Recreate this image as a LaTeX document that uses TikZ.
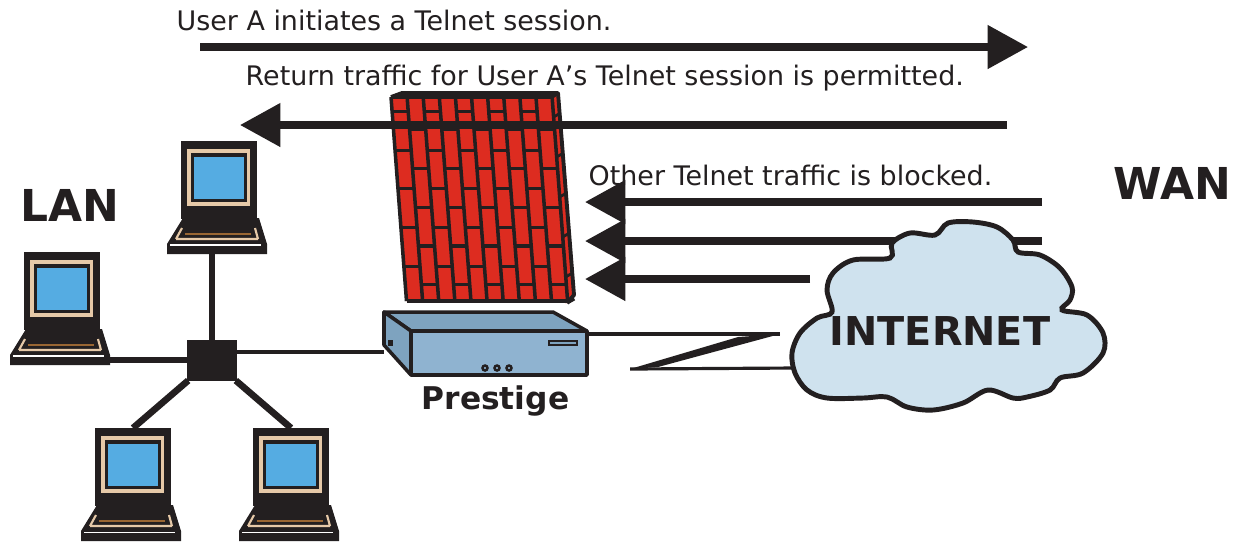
\documentclass[tikz,border=0pt]{standalone}
\usepackage{fontspec}
\setmainfont{DejaVu Sans}
\usetikzlibrary{arrows.meta,positioning}
\definecolor{ink}{HTML}{231F20}
\definecolor{brick}{HTML}{DD2C20}
\definecolor{screen}{HTML}{55ACE2}
\definecolor{bezel}{HTML}{E6C9A8}
\definecolor{caseface}{HTML}{8FB3D0}
\definecolor{casetop}{HTML}{7EA3BF}
\definecolor{cloudblue}{HTML}{CFE2EE}
\tikzset{
  msg/.style={font=\fontsize{7.65}{9}\selectfont,text=ink,inner sep=0pt},
  title/.style={font=\fontsize{12.5}{14}\selectfont\bfseries,text=ink,inner sep=0pt},
  traffic/.style={draw=ink,line width=2.1pt,-{Triangle[length=11.5pt,width=12pt]}},
  wire/.style={draw=ink,line width=1.3pt},
  computer/.pic={
    \fill[ink] (0,0) rectangle (76,78);
    \fill[bezel] (6,8) rectangle (69,65);
    \fill[ink] (10,12) rectangle (66,61);
    \fill[screen] (13,16) rectangle (63,58);
    \fill[ink] (2,77) -- (78,77) -- (86,103) -- (86,113) -- (-14,113) -- (-14,103) -- cycle;
    \draw[bezel,line width=0.6pt] (-5,98) -- (1,87) (74,87) -- (77,98) (-5,98) -- (77,98);
    \draw[brown!80!black,line width=0.5pt] (4,93) -- (70,93);
    \draw[white,line width=0.3pt] (-11,104) -- (80,104);
    \coordinate (-north) at (38,0);
    \coordinate (-south) at (31,113);
    \coordinate (-east) at (86,108);
  }
}
\begin{document}
\begin{tikzpicture}[x=0.01cm,y=-0.01cm]
  \useasboundingbox (0,0) rectangle (1240,550);

  % firewall
  \fill[brick] (391,97) -- (402,93) -- (558,93) -- (574,295) -- (567,303) -- (406,301) -- cycle;
  \begin{scope}[shift={(391,97)},x={(0.161cm,0cm)},y={(0.0155cm,-0.204cm)},line width=0.9pt]
    \foreach \i in {0,...,10}
      \draw[ink,line width=1pt] (\i,0) -- (\i,10);
    \draw[ink,line width=1pt] (0,0) -- (10,0) (0,10) -- (10,10);
    \foreach \i in {0,2,...,8}
      \foreach \j in {0.7,2.6,...,9.7}
        \draw[ink] (\i,\j) -- (\i+1,\j);
    \foreach \i in {1,3,...,9}
      \foreach \j in {1.6,3.5,...,9.7}
        \draw[ink] (\i,\j) -- (\i+1,\j);
  \end{scope}
  \draw[ink,line width=1.1pt,line join=round] (391,97) -- (402,93) -- (558,93) -- (574,295) -- (567,303);
  \draw[ink,line width=1pt] (552,97) -- (558,93);
  \foreach \j in {20,60,100,140,180,206}
    \draw[ink,line width=0.8pt] (552+\j*0.075,97+\j) -- (559+\j*0.075,93+\j);
  \foreach \i in {1,...,9}
    \draw[ink,line width=0.6pt] (391+\i*16.1,97) -- (397+\i*16.1,93);

  % arrows
  \coordinate (sendA) at (200,47);
  \coordinate (sendB) at (1028,47);
  \coordinate (backA) at (1007,125);
  \coordinate (backB) at (240,125);
  \coordinate (blockA) at (1042,202);
  \coordinate (blockB) at (585,202);
  \coordinate (blockC) at (1042,241);
  \coordinate (blockD) at (585,241);
  \coordinate (blockE) at (810,279);
  \coordinate (blockF) at (585,279);
  \draw[traffic] (sendA) -- (sendB);
  \draw[traffic] (backA) -- (backB);
  \draw[traffic] (blockA) -- (blockB);
  \draw[traffic] (blockC) -- (blockD);
  \draw[traffic] (blockE) -- (blockF);

  % computers
  \pic (pcTop) at (181,141) {computer};
  \pic (pcLeft) at (24,252) {computer};
  \pic (pcLow) at (95,428) {computer};
  \pic (pcRight) at (253,428) {computer};
  \node[fill=ink,minimum width=0.5cm,minimum height=0.41cm,inner sep=0pt,outer sep=0pt] (hub) at (212,360) {};
  \draw[wire,line width=1.9pt] (hub) -- (pcTop-south);
  \draw[wire,line width=1.9pt] (hub) -- (pcLeft-east);
  \draw[wire,line width=1.9pt] (hub) -- (pcLow-north);
  \draw[wire,line width=1.9pt] (hub) -- (pcRight-north);

  % router
  \filldraw[fill=casetop,draw=ink,line width=1pt,line join=round] (384,312) -- (553,312) -- (587,331) -- (411,331) -- cycle;
  \filldraw[fill=casetop,draw=ink,line width=1pt,line join=round] (384,312) -- (411,331) -- (411,375) -- (384,345) -- cycle;
  \filldraw[fill=caseface,draw=ink,line width=1pt,line join=round] (411,331) rectangle (587,375);
  \draw[ink,line width=0.5pt,fill=casetop] (549,341) rectangle (577,345);
  \foreach \x in {485,497,509}
    \filldraw[fill=caseface,draw=ink,line width=0.7pt] (\x,368) circle (2.5);
  \fill[ink] (388,340) rectangle (393,346);
  \coordinate (routerW) at (384,352);
  \coordinate (routerE) at (587,334);
  \draw[wire,line width=0.9pt] (hub.east |- routerW) -- (routerW);

  % link to cloud
  \coordinate (zigA) at (780,334);
  \coordinate (zigB) at (630,369);
  \coordinate (cloudW) at (793,368);
  \draw[wire,line width=0.9pt] (routerE) -- (zigA);
  \fill[ink] (zigA) -- (738,337) -- (zigB) -- (658,367) -- cycle;
  \draw[wire,line width=0.9pt] (zigB) -- (cloudW);

  % cloud
  \filldraw[fill=cloudblue,draw=ink,line width=1.4pt] plot[smooth cycle,tension=0.55] coordinates {
    (892,243) (910,233) (935,235) (948,223) (973,222) (997,227) (1013,240) (1018,252)
    (1040,255) (1060,268) (1072,287) (1070,300) (1062,310) (1087,315) (1103,333) (1103,353)
    (1083,373) (1060,378) (1050,390) (1027,397) (1013,398) (988,390) (963,403) (933,410)
    (907,407) (887,397) (863,398) (827,398) (807,390) (795,373) (792,353) (800,333)
    (817,318) (832,312) (827,290) (833,273) (853,260) (890,258)};

  % labels
  \node[msg,anchor=west] (sendtext) at (176,20) {User A initiates a Telnet session.};
  \node[msg,anchor=west] (backtext) at (245,78) {Return traffic for User A's Telnet session is permitted.};
  \node[msg,anchor=west] (blocktext) at (588,175) {Other Telnet traffic is blocked.};
  \node[title,anchor=west] (wan) at (1113,183) {WAN};
  \node[title,anchor=west] (lan) at (20,205) {LAN};
  \node[title,font=\fontsize{8.9}{11}\selectfont\bfseries,anchor=west] (prestige) at (421,401) {Prestige};
  \node[title,font=\fontsize{11.3}{13}\selectfont\bfseries] (internet) at (940,331) {INTERNET};
\end{tikzpicture}
\end{document}
